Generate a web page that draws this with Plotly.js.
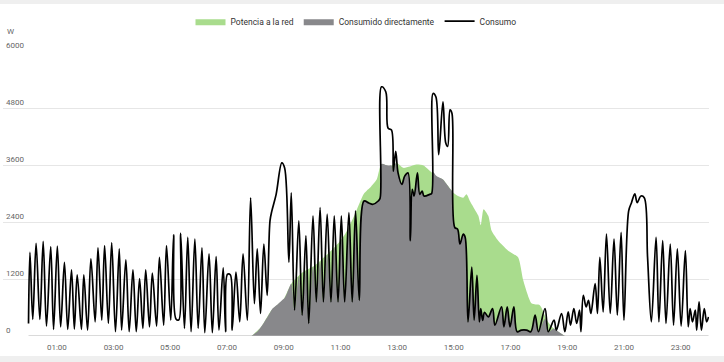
<!DOCTYPE html>
<html>
<head>
<meta charset="utf-8">
<script src="https://cdn.plot.ly/plotly-3.0.1.min.js"></script>
<style>
  html, body { margin: 0; padding: 0; background: #efefef; width: 724px; height: 362px; overflow: hidden; }
  #chart { position: absolute; left: 0; top: 4px; width: 724px; height: 352px; background: #fff; }
</style>
</head>
<body>
<div id="chart"></div>
<script>
const day = '2024-05-10 ';
const seriesNames = ['Potencia a la red', 'Consumido directamente', 'Consumo'];
const yTickValues = [0, 1200, 2400, 3600, 4800, 6000];
const yUnit = 'W';

const consumoTimes = ['00:00','00:03','00:09','00:16','00:24','00:31','00:38','00:47','00:53','01:01','01:08','01:16','01:23','01:31','01:37','01:43','01:52','01:57','02:05','02:12','02:21','02:27','02:35','02:41','02:49','02:56','03:04','03:12','03:17','03:26','03:33','03:41','03:48','03:55','04:02','04:08','04:16','04:22','04:31','04:37','04:46','04:52','05:01','05:07','05:12','05:18','05:22','05:30','05:37','05:44','05:52','05:59','06:07','06:13','06:22','06:29','06:37','06:43','06:52','06:57','07:01','07:07','07:11','07:19','07:27','07:34','07:43','07:50','07:58','08:04','08:11','08:18','08:25','08:31','08:35','08:44','08:56','09:02','09:11','09:16','09:23','09:32','09:39','09:47','09:53','10:02','10:09','10:17','10:24','10:32','10:40','10:47','10:55','11:02','11:09','11:18','11:25','11:32','11:40','11:50','12:00','12:09','12:20','12:24','12:27','12:36','12:41','12:48','12:52','12:57','13:02','13:10','13:16','13:23','13:28','13:32','13:36','13:43','13:48','13:53','13:57','14:09','14:13','14:16','14:22','14:28','14:37','14:43','14:47','14:52','14:56','15:02','15:08','15:13','15:20','15:24','15:30','15:38','15:43','15:49','15:54','15:57','16:01','16:05','16:13','16:22','16:27','16:41','16:46','16:53','16:59','17:07','17:14','17:23','17:34','17:43','17:52','17:59','18:13','18:20','18:32','18:37','18:48','18:55','19:02','19:07','19:14','19:20','19:26','19:29','19:34','19:40','19:45','19:50','19:59','20:04','20:09','20:16','20:23','20:31','20:39','20:46','20:54','21:00','21:10','21:16','21:23','21:28','21:36','21:43','21:50','21:58','22:08','22:14','22:22','22:29','22:38','22:45','22:53','23:01','23:10','23:16','23:20','23:25','23:31','23:34','23:39','23:44','23:50','23:55','23:59'];
const consumoW = [265,1762,349,1950,349,1992,209,1881,140,1895,194,1553,140,1394,146,1289,140,1289,125,1624,299,1854,334,1902,265,1965,90,1833,125,1603,90,1394,90,1206,161,1394,194,1323,209,1657,230,1902,334,2132,360,340,2159,161,2075,90,2042,161,1854,69,1728,69,1672,125,1436,90,1300,1290,125,1344,299,1728,334,2911,683,1833,474,1937,857,2424,2633,2982,3643,3538,1553,3016,543,2424,439,2111,265,2529,717,2703,717,2564,717,2529,717,2529,717,2598,717,2633,752,2842,2800,2773,2842,2900,5246,5141,4374,4340,3469,3887,3434,3191,3365,3434,2006,3087,2947,3434,2982,3051,2947,2982,3000,5106,5037,3818,4932,4061,3992,4759,4688,2285,2250,1937,2146,2080,299,1449,334,1275,299,579,330,500,403,579,230,612,194,612,194,612,90,125,125,90,439,90,579,90,334,125,474,90,508,230,579,265,543,90,857,612,752,474,1101,474,1657,508,2146,474,2042,439,2180,334,2633,2807,2995,2807,2947,2911,1657,299,2075,299,2006,265,1937,230,1833,209,1797,194,579,299,543,125,717,125,579,299,403];

const produccionTimes = ['07:52','08:13','08:34','09:00','09:16','09:40','10:05','10:30','10:55','11:10','11:30','11:50','12:05','12:17','12:27','12:44','12:59','13:13','13:27','13:41','13:56','14:09','14:23','14:37','14:48','14:59','15:09','15:20','15:27','15:34','15:44','15:52','15:57','16:03','16:13','16:20','16:34','16:55','17:16','17:27','17:45','18:02','18:17','18:31','18:41','18:55'];
const produccionW = [0,200,540,780,1100,1340,1480,1700,1950,2150,2550,3000,3150,3300,3620,3573,3640,3540,3570,3609,3590,3480,3360,3296,3156,3016,2947,2911,2982,2842,2669,2529,2330,2669,2529,2215,2006,1797,1657,1170,683,648,334,161,90,0];

const directoTimes = ['07:52','07:58','08:04','08:11','08:18','08:25','08:31','08:35','08:44','08:56','09:02','09:11','09:16','09:23','09:32','09:39','09:47','09:53','10:02','10:09','10:17','10:24','10:32','10:40','10:47','10:55','11:02','11:09','11:18','11:25','11:32','11:40','11:50','12:00','12:09','12:20','12:24','12:27','12:36','12:41','12:48','12:52','12:57','13:02','13:10','13:16','13:23','13:28','13:32','13:36','13:43','13:48','13:53','13:57','14:09','14:13','14:16','14:22','14:28','14:37','14:43','14:47','14:52','14:56','15:02','15:08','15:13','15:20','15:24','15:30','15:38','15:43','15:49','15:54','15:57','16:01','16:05','16:13','16:22','16:27','16:41','16:46','16:53','16:59','17:07','17:14','17:23','17:34','17:43','17:52','17:59','18:13','18:20','18:32','18:37','18:48','18:55'];
const directoW = [0,50,90,180,280,390,490,560,640,750,800,1000,1100,543,1260,439,1380,265,1470,717,1560,717,1710,717,1870,717,2040,717,2310,717,2600,752,2842,2800,2773,2842,2900,3620,3600,3590,3590,3469,3630,3434,3191,3365,3434,2006,3087,2947,3434,2982,3051,2947,2982,3000,3450,3380,3340,3296,3220,3170,3100,3050,2285,2250,1937,2146,2080,299,1449,334,1275,299,579,330,500,403,579,230,612,194,612,194,612,90,125,125,90,439,90,360,90,160,120,45,0];

const toX = arr => arr.map(t => day + t);
const font = 'Roboto, "Liberation Sans", Arial, sans-serif';

const traces = [
  {
    type: 'scatter', mode: 'lines', name: seriesNames[0],
    x: toX(produccionTimes), y: produccionW,
    line: {width: 0, shape: 'spline', smoothing: 0.6, color: '#a9dc8d'},
    fill: 'tozeroy', fillcolor: '#a9dc8d', hoverinfo: 'skip'
  },
  {
    type: 'scatter', mode: 'lines', name: seriesNames[1],
    x: toX(directoTimes), y: directoW,
    line: {width: 0, shape: 'spline', smoothing: 1, color: '#88888b'},
    fill: 'tozeroy', fillcolor: '#88888b', hoverinfo: 'skip'
  },
  {
    type: 'scatter', mode: 'lines', name: seriesNames[2],
    x: toX(consumoTimes), y: consumoW,
    line: {width: 1.7, shape: 'spline', smoothing: 1, color: '#000000'},
    hoverinfo: 'skip'
  }
];

const layout = {
  width: 724, height: 352,
  margin: {l: 3, r: 15, t: 45, b: 20},
  paper_bgcolor: '#ffffff', plot_bgcolor: '#ffffff',
  font: {family: font, size: 8, color: '#666666'},
  showlegend: true,
  legend: {
    orientation: 'h', x: 0.5, xanchor: 'center', y: 1.1045, yanchor: 'middle',
    font: {family: font, size: 8.5, color: '#333333'}, traceorder: 'normal',
    itemwidth: 30, tracegroupgap: 0
  },
  xaxis: {
    type: 'date',
    range: ['2024-05-09 23:06', '2024-05-11 00:00'],
    tick0: day + '01:00', dtick: 7200000, tickformat: '%H:%M',
    showgrid: false, zeroline: false, showline: false, ticks: '',
    tickfont: {family: font, size: 8, color: '#666666'},
    ticklabelstandoff: 5,
    fixedrange: true
  },
  yaxis: {
    range: [0, 6000], tickvals: yTickValues, ticktext: yTickValues.map(String),
    showgrid: true, gridcolor: '#e6e6e6', gridwidth: 1,
    zeroline: false, showline: false, ticks: '',
    ticklabelposition: 'inside', ticklabelshift: -6, ticklabeloverflow: 'allow',
    tickfont: {family: font, size: 8, color: '#666666'},
    fixedrange: true
  },
  shapes: [{
    type: 'line', xref: 'x', yref: 'y',
    x0: day + consumoTimes[0], x1: day + consumoTimes[consumoTimes.length - 1],
    y0: 0, y1: 0, line: {color: '#b5b5b5', width: 1}, layer: 'above'
  }],
  annotations: [{
    xref: 'paper', yref: 'paper', x: 0.003, y: 1.0697, xanchor: 'left', yanchor: 'middle',
    text: yUnit, showarrow: false, font: {family: font, size: 8, color: '#666666'}
  }]
};

Plotly.newPlot('chart', traces, layout, {displayModeBar: false, staticPlot: true});
</script>
</body>
</html>
